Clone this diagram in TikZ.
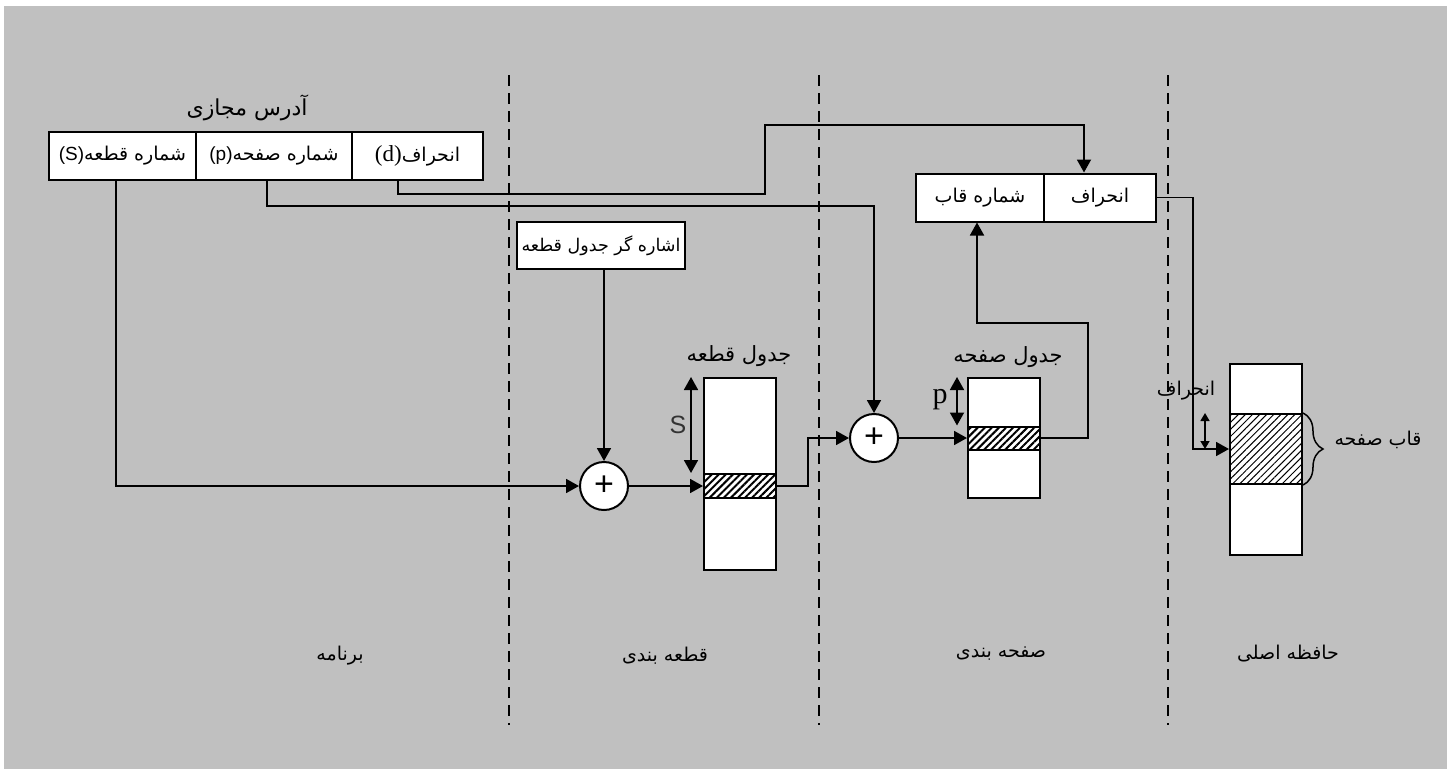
\documentclass[tikz,border=0pt]{standalone}
\usepackage{fontspec}
\setmainfont{Liberation Serif}
\setsansfont{Liberation Sans}
\newfontfamily\arabicfont[Script=Arabic]{DejaVu Sans}
\TeXXeTstate=1
\usetikzlibrary{arrows.meta,patterns.meta,decorations.pathreplacing}
\definecolor{bggray}{HTML}{C0C0C0}
\newcommand{\fa}[1]{{\arabicfont\beginR #1\endR}}
\begin{document}
\begin{tikzpicture}[x=1pt,y=-1pt,
  box/.style={draw, line width=2pt, fill=white, inner sep=0pt, anchor=center},
  conn/.style={line width=1.8pt},
  arr/.style={conn, -{Triangle[length=13pt,width=14pt]}},
  darr/.style={conn, {Triangle[length=13pt,width=14pt]}-{Triangle[length=13pt,width=14pt]}},
  sarr/.style={line width=1.5pt, {Triangle[length=8pt,width=9pt]}-{Triangle[length=8pt,width=9pt]}},
  hatch/.style={box, postaction={pattern={Lines[angle=45,distance=5pt,line width=2pt]}}},
  hatchthin/.style={box, postaction={pattern={Lines[angle=45,distance=5pt,line width=1pt]}}},
  adder/.style={draw, circle, line width=2pt, fill=white, minimum size=48pt, inner sep=0pt, font=\sffamily\fontsize{34}{34}\selectfont},
  divider/.style={line width=2pt, dash pattern=on 11pt off 7pt},
  lbl/.style={font=\fontsize{19}{21}\selectfont, inner sep=0pt},
  cell/.style={box, minimum height=48pt, font=\fontsize{19}{21}\selectfont},
]
\useasboundingbox (0,0) rectangle (1452,769);
\fill[white] (0,0) rectangle (1452,769);
\fill[bggray] (4,6) rectangle (1447,769);

% dividers
\draw[divider] (509,75) -- (509,725);
\draw[divider] (819,75) -- (819,725);
\draw[divider] (1168,75) -- (1168,725);

% virtual address
\node[lbl, font=\fontsize{22}{24}\selectfont] (valbl) at (247,108) {\fa{آدرس مجازی}};
\node[cell, minimum width=147pt] (sc) at (122.5,156) {{\sffamily(S)}\fa{شماره قطعه}};
\node[cell, minimum width=156pt] (pc) at (274,156) {{\sffamily(p)}\fa{شماره صفحه}};
\node[cell, minimum width=131pt] (dc) at (417.5,156) {{\fontsize{23}{23}\selectfont(d)}\fa{انحراف}};

% frame address
\node[cell, minimum width=128pt] (fq) at (980,197.5) {\fa{شماره قاب}};
\node[cell, minimum width=112pt] (fo) at (1100,197.5) {\fa{انحراف}};

% segment table pointer
\node[cell, minimum width=168pt, minimum height=47pt, font=\fontsize{17.5}{20}\selectfont] (sp) at (601,245.5) {\fa{اشاره گر جدول قطعه}};

% adders
\node[adder] (add1) at (604,486) {+};
\node[adder] (add2) at (874,438) {+};

% segment table
\node[box, minimum width=72pt, minimum height=192pt] (st) at (740,474) {};
\node[hatch, minimum width=72pt, minimum height=24pt] (strow) at (740,486) {};
\node[lbl, font=\fontsize{21}{23}\selectfont] (stlbl) at (739,356) {\fa{جدول قطعه}};

% page table
\node[box, minimum width=72pt, minimum height=120pt] (pt) at (1004,438) {};
\node[hatch, minimum width=72pt, minimum height=23pt] (ptrow) at (1004,438) {};
\node[lbl, font=\fontsize{21}{23}\selectfont] (ptlbl) at (1008,357) {\fa{جدول صفحه}};

% main memory
\node[box, minimum width=72pt, minimum height=191pt] (mem) at (1266,459.5) {};
\node[hatchthin, minimum width=72pt, minimum height=70pt] (mrow) at (1266,449) {};
\node[lbl] (offlbl) at (1186,391) {\fa{انحراف}};
\node[lbl] (framelbl) at (1378,440) {\fa{قاب صفحه}};

% bottom labels
\node[lbl] (l1) at (340,656) {\fa{برنامه}};
\node[lbl] (l2) at (665,656) {\fa{قطعه بندی}};
\node[lbl] (l3) at (1001,654) {\fa{صفحه بندی}};
\node[lbl] (l4) at (1288,654) {\fa{حافظه اصلی}};

% connectors
\draw[arr] ([xshift=-6.5pt]sc.south) |- (add1.west);
\draw[arr] ([xshift=-7pt]pc.south) -- ++(0,25) -| (add2.north);
\coordinate (dbA) at (765,194);
\coordinate (dbB) at (765,125);
\draw[arr] ([xshift=-19.5pt]dc.south) |- (dbA) -- (dbB) -| ([xshift=-16pt]fo.north);
\draw[arr] (sp.south -| add1) -- (add1.north);
\draw[arr] (add1.east) -- (strow.west);
\coordinate (sbend) at (808,486);
\draw[arr] (strow.east) -- (sbend) |- (add2.west);
\draw[arr] (add2.east) -- (ptrow.west);
\coordinate (pup) at (1088,323);
\draw[arr] (ptrow.east) -| (pup) -| ([xshift=-3pt]fq.south);
\coordinate (mbend) at (1193,197.5);
\draw[arr] (fo.east) -- (mbend) |- (mrow.west);

% range arrows
\draw[darr] ([xshift=-12pt]st.north west) -- ([xshift=-12pt]strow.north west);
\node[font=\sffamily\fontsize{25}{25}\selectfont, text=black!80, inner sep=0pt] (slbl) at (678,425) {S};
\draw[darr] ([xshift=-10pt]pt.north west) -- ([xshift=-10pt]ptrow.north west);
\node[font=\fontsize{30}{30}\selectfont, inner sep=0pt] (plbl) at (940,400) {p};
\draw[sarr] ([xshift=-24pt]mrow.north west) -- ([xshift=-24pt]mrow.west);

% brace
\draw[line width=1.5pt, decorate, decoration={brace, amplitude=20pt}] (mrow.north east) -- (mrow.south east);
\end{tikzpicture}
\end{document}
